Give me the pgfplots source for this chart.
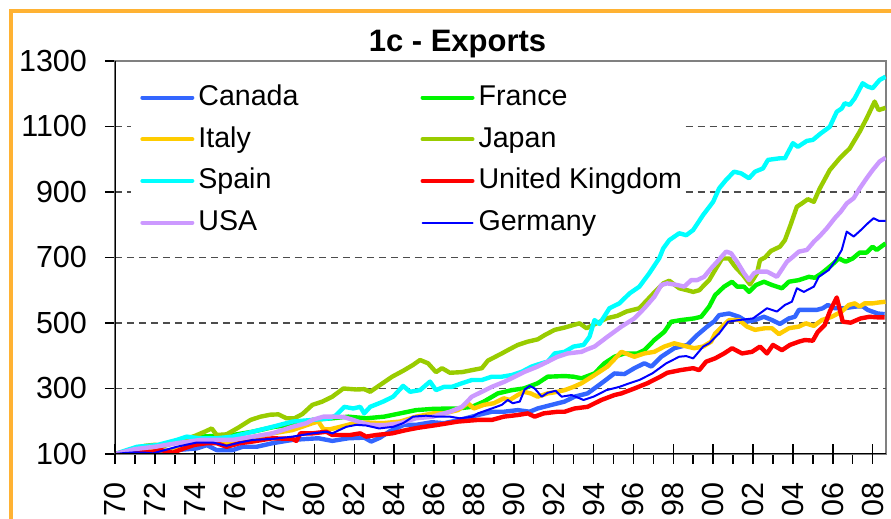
\documentclass[border=0pt]{standalone}
\usepackage{fontspec}
\setmainfont{Liberation Sans}
\usepackage{pgfplots}
\pgfplotsset{compat=1.18}
\definecolor{frameorange}{RGB}{255,178,51}
\definecolor{canada}{RGB}{51,102,255}
\definecolor{france}{RGB}{0,245,0}
\definecolor{italy}{RGB}{255,204,0}
\definecolor{japan}{RGB}{153,204,0}
\definecolor{spain}{RGB}{0,255,255}
\definecolor{uk}{RGB}{255,0,0}
\definecolor{usa}{RGB}{204,153,255}
\definecolor{germany}{RGB}{0,0,255}
\definecolor{bordergray}{RGB}{128,128,128}

\begin{document}
\begin{tikzpicture}
% orange chart frame (only left and top edges are inside the picture)
\draw[frameorange, line width=2.15pt] (5.6pt,-10pt) -- (5.6pt,254pt) -- (470pt,254pt);
\node[anchor=base, font=\bfseries\fontsize{15.5}{18}\selectfont] at (228.75pt,233.6pt) {1c - Exports};

\begin{axis}[
  at={(57.5pt,32.5pt)}, anchor=south west,
  scale only axis, width=385.5pt, height=196.5pt,
  xmin=1970, xmax=2008.67, ymin=100, ymax=1300,
  ytick={100,300,...,1300},
  xtick={1970,1971,...,2008}, xticklabel={\mbox{}},
  extra x ticks={1970,1972,...,2008},
  extra x tick labels={70,72,74,76,78,80,82,84,86,88,90,92,94,96,98,00,02,04,06,08},
  extra x tick style={major tick length=10pt, tick align=center},
  tick pos=left, tick align=outside, major tick length=5pt,
  tick style={black, line width=0.75pt},
  axis line style={bordergray, line width=1pt},
  /pgf/number format/1000 sep={},
  /pgf/number format/assume math mode=true,
  tick label style={font=\fontsize{15.25}{18}\selectfont, inner sep=0pt},
  yticklabel style={anchor=east},
  yticklabel shift=8.85pt,
  x tick label style={rotate=90, anchor=east},
  xticklabel shift=9pt,
  legend columns=2,
  legend cell align=left,
  legend image code/.code={\draw[#1, line cap=round] (0pt,0pt) -- (25pt,0pt);},
  legend image post style={line width=2pt},
  legend style={at={(0.022,0.959)}, anchor=north west,
    fill=none, draw=none, inner xsep=4pt, inner ysep=2pt,
    font=\fontsize{14.3}{17}\selectfont,
    nodes={inner sep=1pt, text height=11pt, text depth=3pt},
    row sep=4.85pt,
    /tikz/every odd column/.style={column sep=1pt},
    /tikz/column 2/.style={column sep=60pt}},
  every axis plot/.append style={line join=round},
]

% dashed gridlines; at 900 and 1100 they are hidden behind the legend
\begin{scope}[black!70, line width=0.6pt, dash pattern=on 3.5pt off 2.5pt]
\draw (axis cs:1970,300) -- (axis cs:2008.67,300);
\draw (axis cs:1970,500) -- (axis cs:2008.67,500);
\draw (axis cs:1970,700) -- (axis cs:2008.67,700);
\draw (axis cs:1970,900) -- (axis cs:1970.8,900);
\draw (axis cs:1998.62,900) -- (axis cs:2008.67,900);
\draw (axis cs:1970,1100) -- (axis cs:1970.8,1100);
\draw (axis cs:1998.62,1100) -- (axis cs:2008.67,1100);
\end{scope}

\addplot[canada, line width=2.2pt] coordinates {
(1970,100) (1971,104) (1972.1,107) (1973.1,112) (1974.1,117) (1974.6,127) (1975.1,112)
(1975.9,112) (1976.4,122) (1977.1,122) (1977.9,133) (1978.9,143) (1979.6,146) (1980.2,148)
(1980.9,140) (1981.7,148) (1982.5,150) (1982.85,138) (1983.3,150) (1983.8,170) (1984.5,189)
(1985.1,189) (1985.9,197) (1986.5,194) (1987.3,204) (1988.2,219) (1988.9,229) (1989.5,229)
(1990.2,234) (1990.8,229) (1991.2,239) (1991.9,250) (1992.55,260) (1993.05,275) (1993.7,285)
(1994.4,316) (1995.05,346) (1995.55,344) (1996.05,362) (1996.55,377) (1996.9,367) (1997.4,397)
(1998.05,423) (1998.7,433) (1999.2,463) (1999.7,489) (2000.05,505) (2000.3,524) (2000.8,529)
(2001.3,519) (2001.7,504) (2002.1,509) (2002.55,519) (2002.95,509) (2003.35,497) (2003.8,514)
(2004.1,519) (2004.3,540) (2004.8,540) (2005.2,540) (2005.5,545) (2005.75,555) (2006.1,545)
(2006.6,545) (2007.1,550) (2007.5,551) (2007.75,540) (2008.25,529) (2008.6,527)
};
\addlegendentry{Canada}

\addplot[france, line width=2.2pt] coordinates {
(1970,100) (1971,112) (1972,122) (1973,138) (1974.3,153) (1975.9,158) (1976.9,168) (1978,183)
(1978.9,189) (1979.9,204) (1980.9,209) (1981.7,214) (1982.6,209) (1983.5,214) (1984.3,224)
(1985.1,234) (1986,238) (1987.2,239) (1987.9,244) (1988.5,260) (1989.2,285) (1989.9,295)
(1990.5,300) (1991.2,316) (1991.7,336) (1992.55,338) (1993,336) (1993.4,331) (1994.05,346)
(1994.55,377) (1995.05,397) (1995.55,407) (1996.2,407) (1996.55,417) (1997.05,448) (1997.55,473)
(1997.9,504) (1998.4,509) (1999.05,514) (1999.4,519) (1999.8,550) (2000.1,585) (2000.55,611)
(2000.95,626) (2001.2,611) (2001.55,611) (2001.8,595) (2002.15,616) (2002.55,626) (2002.95,616)
(2003.45,606) (2003.8,626) (2004.3,631) (2004.8,641) (2005.1,638) (2005.45,652) (2005.95,677)
(2006.3,697) (2006.65,687) (2007,697) (2007.35,715) (2007.7,715) (2008,733) (2008.2,723) (2008.65,743)
};
\addlegendentry{France}

\addplot[italy, line width=2.2pt] coordinates {
(1970,100) (1971,105) (1972.2,112) (1972.9,107) (1973.6,125) (1974.1,133) (1975.1,138)
(1975.9,133) (1976.9,148) (1977.9,163) (1978.9,173) (1979.9,194) (1980.2,199) (1980.45,176)
(1980.75,175) (1981.3,183) (1982,194) (1982.6,196) (1983.4,194) (1984.3,199) (1985.1,214)
(1985.95,224) (1986.5,224) (1987.2,234) (1987.7,255) (1988.0,239) (1988.5,250) (1989,255)
(1989.5,270) (1989.8,265) (1990.2,280) (1990.5,290) (1990.85,285) (1991.2,275) (1991.7,285)
(1992.2,290) (1992.55,295) (1993,305) (1993.4,316) (1994.05,341) (1994.7,367) (1995.4,412)
(1996.05,397) (1996.55,407) (1997.05,412) (1997.55,428) (1998.05,438) (1998.7,428) (1999.05,423)
(1999.5,428) (1999.9,443) (2000.1,468) (2000.45,489) (2000.8,509) (2001.3,509) (2001.7,489)
(2002.1,479) (2002.6,484) (2002.95,484) (2003.3,466) (2003.8,484) (2004.3,489) (2004.65,499)
(2005.05,491) (2005.45,509) (2005.95,519) (2006.45,535) (2006.8,555) (2007.1,560) (2007.35,550)
(2007.6,560) (2008,560) (2008.35,563) (2008.65,565)
};
\addlegendentry{Italy}

\addplot[japan, line width=2.2pt] coordinates {
(1970,100) (1970.5,108) (1971,118) (1971.5,125) (1972,128) (1972.5,125) (1973,135) (1973.5,145)
(1974,155) (1974.5,168) (1974.85,178) (1975.1,158) (1975.6,160) (1976.2,181) (1976.8,204)
(1977.3,214) (1977.8,220) (1978.2,221) (1978.6,209) (1979,209) (1979.4,222) (1979.9,250)
(1980.4,260) (1980.9,275) (1981.45,300) (1982.1,297) (1982.5,298) (1982.8,290) (1983.3,311)
(1983.9,336) (1984.45,354) (1984.95,372) (1985.3,387) (1985.7,377) (1986.1,350) (1986.4,362)
(1986.8,348) (1987.4,350) (1987.9,356) (1988.4,362) (1988.7,385) (1989.4,407) (1989.7,417)
(1990.2,433) (1990.7,443) (1991.2,450) (1991.55,463) (1992.05,479) (1992.55,486) (1993,494)
(1993.3,499) (1993.65,484) (1994.15,499) (1994.65,514) (1995.2,522) (1995.65,535) (1996.3,545)
(1997,590) (1997.5,621) (1997.8,629) (1998.3,606) (1998.7,600) (1999,595) (1999.3,600)
(1999.8,631) (2000.1,662) (2000.45,697) (2000.8,697) (2001.1,672) (2001.5,646) (2001.85,618)
(2002.2,652) (2002.35,692) (2002.6,700) (2002.9,720) (2003.35,733) (2003.6,753) (2003.85,794)
(2004.2,855) (2004.45,865) (2004.75,878) (2005.05,870) (2005.35,911) (2005.85,967) (2006.35,1003)
(2006.85,1033) (2007.35,1084) (2007.7,1125) (2008.1,1176) (2008.3,1150) (2008.65,1157)
};
\addlegendentry{Japan}

\addplot[spain, line width=2.2pt] coordinates {
(1970,100) (1970.5,110) (1971.1,122) (1972.1,127) (1973.1,143) (1973.6,153) (1974.25,148)
(1975.1,148) (1975.9,153) (1976.9,168) (1977.9,183) (1978.9,199) (1979.9,204) (1980.8,209)
(1981.1,219) (1981.5,244) (1981.95,239) (1982.3,244) (1982.5,224) (1982.8,244) (1983.45,260)
(1983.95,275) (1984.45,308) (1984.8,290) (1985.3,295) (1985.8,321) (1986.1,295) (1986.5,305)
(1986.9,305) (1987.4,316) (1987.9,326) (1988.4,326) (1988.9,336) (1989.4,336) (1989.9,341)
(1990.4,351) (1990.9,367) (1991.4,377) (1991.7,382) (1992.05,407) (1992.55,412) (1993,428)
(1993.5,433) (1993.8,458) (1994.05,509) (1994.3,497) (1994.8,545) (1995.3,560) (1995.8,590)
(1996.3,611) (1996.8,652) (1997.3,698) (1997.5,728) (1997.8,753) (1998.3,774) (1998.65,768)
(1999,784) (1999.5,830) (2000,870) (2000.3,911) (2000.65,937) (2001.05,962) (2001.4,957)
(2001.8,942) (2002.1,962) (2002.5,972) (2002.75,998) (2003.35,1003) (2003.6,1003) (2004,1049)
(2004.25,1038) (2004.7,1056) (2005,1059) (2005.4,1079) (2005.85,1099) (2006.2,1145)
(2006.45,1155) (2006.6,1171) (2006.85,1166) (2007.1,1186) (2007.5,1232) (2007.75,1222)
(2008,1217) (2008.35,1242) (2008.65,1252)
};
\addlegendentry{Spain}

\addplot[uk, line width=2.2pt] coordinates {
(1970,100) (1970.7,108) (1971.3,112) (1971.8,106) (1972.3,112) (1972.9,104) (1973.5,118)
(1974,128) (1974.6,133) (1975.1,133) (1975.6,122) (1976.25,133) (1976.9,138) (1977.9,148)
(1978.9,146) (1979.1,140) (1979.3,163) (1979.9,163) (1980.6,168) (1980.9,158) (1981.8,158)
(1982.3,163) (1982.6,153) (1983.1,158) (1983.9,163) (1984.6,173) (1985.2,180) (1986.2,189)
(1987.2,199) (1988.2,204) (1988.9,204) (1989.5,214) (1990.2,219) (1990.7,224) (1991.05,214)
(1991.5,224) (1992.2,229) (1992.55,229) (1993.05,239) (1993.7,244) (1994.4,265) (1995.05,280)
(1995.4,285) (1996.05,300) (1996.7,316) (1997.35,336) (1997.7,348) (1998.35,356) (1999,362)
(1999.3,356) (1999.65,382) (2000.1,392) (2000.55,407) (2000.95,423) (2001.45,407) (2001.95,412)
(2002.35,428) (2002.7,407) (2003,433) (2003.45,417) (2003.85,433) (2004.3,443) (2004.6,448)
(2005,446) (2005.25,473) (2005.6,494) (2005.85,535) (2006.2,578) (2006.5,504) (2006.9,501)
(2007.4,514) (2007.85,519) (2008.3,517) (2008.6,517)
};
\addlegendentry{United Kingdom}

\addplot[usa, line width=2.2pt] coordinates {
(1970,100) (1971,115) (1972,122) (1973.1,133) (1974.3,143) (1975.9,143) (1976.9,153)
(1977.9,163) (1978.9,183) (1979.6,194) (1979.9,204) (1980.45,214) (1980.95,214) (1981.45,213)
(1981.95,204) (1982.45,194) (1982.8,189) (1983.5,188) (1984.3,194) (1985.1,209) (1985.95,214)
(1986.2,219) (1986.8,229) (1987.4,244) (1987.9,275) (1988.4,290) (1988.9,305) (1989.55,321)
(1990.05,336) (1990.55,351) (1991.2,367) (1991.7,382) (1992.2,397) (1992.7,407) (1993.4,412)
(1993.7,420) (1994.05,428) (1994.7,458) (1995.4,489) (1996.05,514) (1996.55,545) (1997.05,580)
(1997.4,616) (1997.7,621) (1998.2,616) (1998.55,611) (1998.9,631) (1999.2,631) (1999.55,641)
(1999.9,667) (2000.2,687) (2000.65,718) (2000.9,713) (2001.2,687) (2001.55,652) (2001.8,631)
(2002.05,652) (2002.25,657) (2002.7,657) (2003.2,641) (2003.7,687) (2004,702) (2004.3,718)
(2004.7,723) (2005.05,748) (2005.4,769) (2005.7,789) (2006.1,820) (2006.4,840) (2006.7,865)
(2007.05,881) (2007.35,911) (2007.7,942) (2008,967) (2008.35,993) (2008.65,1005)
};
\addlegendentry{USA}

\addplot[germany, line width=1pt, legend image post style={line width=1pt}] coordinates {
(1970,100) (1970.5,103) (1971,105) (1971.5,104) (1971.9,102) (1972.5,112) (1973.1,122)
(1974.1,135) (1974.9,135) (1975.6,125) (1976.25,135) (1976.9,143) (1977.9,146) (1978.9,153)
(1979.9,163) (1980.6,168) (1980.9,163) (1981.6,183) (1982.1,189) (1982.6,187) (1983.25,178)
(1983.95,183) (1984.45,194) (1984.95,214) (1985.6,217) (1986.1,214) (1986.8,214) (1987.3,209)
(1987.95,214) (1988.2,224) (1988.9,239) (1989.4,250) (1989.7,265) (1989.95,255) (1990.3,260)
(1990.55,297) (1990.8,308) (1991.05,300) (1991.4,275) (1991.7,287) (1992.1,293) (1992.4,275)
(1992.9,280) (1993.5,265) (1994,275) (1994.65,295) (1995.3,305) (1995.8,316) (1996.3,326)
(1996.95,346) (1997.65,377) (1998.3,397) (1998.65,399) (1999,392) (1999.5,428) (1999.8,438)
(2000.3,468) (2000.75,504) (2001.3,509) (2002,514) (2002.7,545) (2003.2,535) (2003.6,555)
(2003.95,565) (2004.2,606) (2004.55,595) (2005.05,611) (2005.3,641) (2005.8,662) (2006.15,692)
(2006.45,723) (2006.7,779) (2007.05,764) (2007.45,786) (2007.75,804) (2008.05,820) (2008.3,812)
(2008.65,812)
};
\addlegendentry{Germany}

% black left and bottom axis lines over the grey frame
\draw[black, line width=0.75pt] (rel axis cs:0,1) -- (rel axis cs:0,0) -- (rel axis cs:1,0);
\end{axis}

\pgfresetboundingbox
\path[use as bounding box] (0pt,0pt) rectangle (445.5pt,259.5pt);
\end{tikzpicture}
\end{document}
